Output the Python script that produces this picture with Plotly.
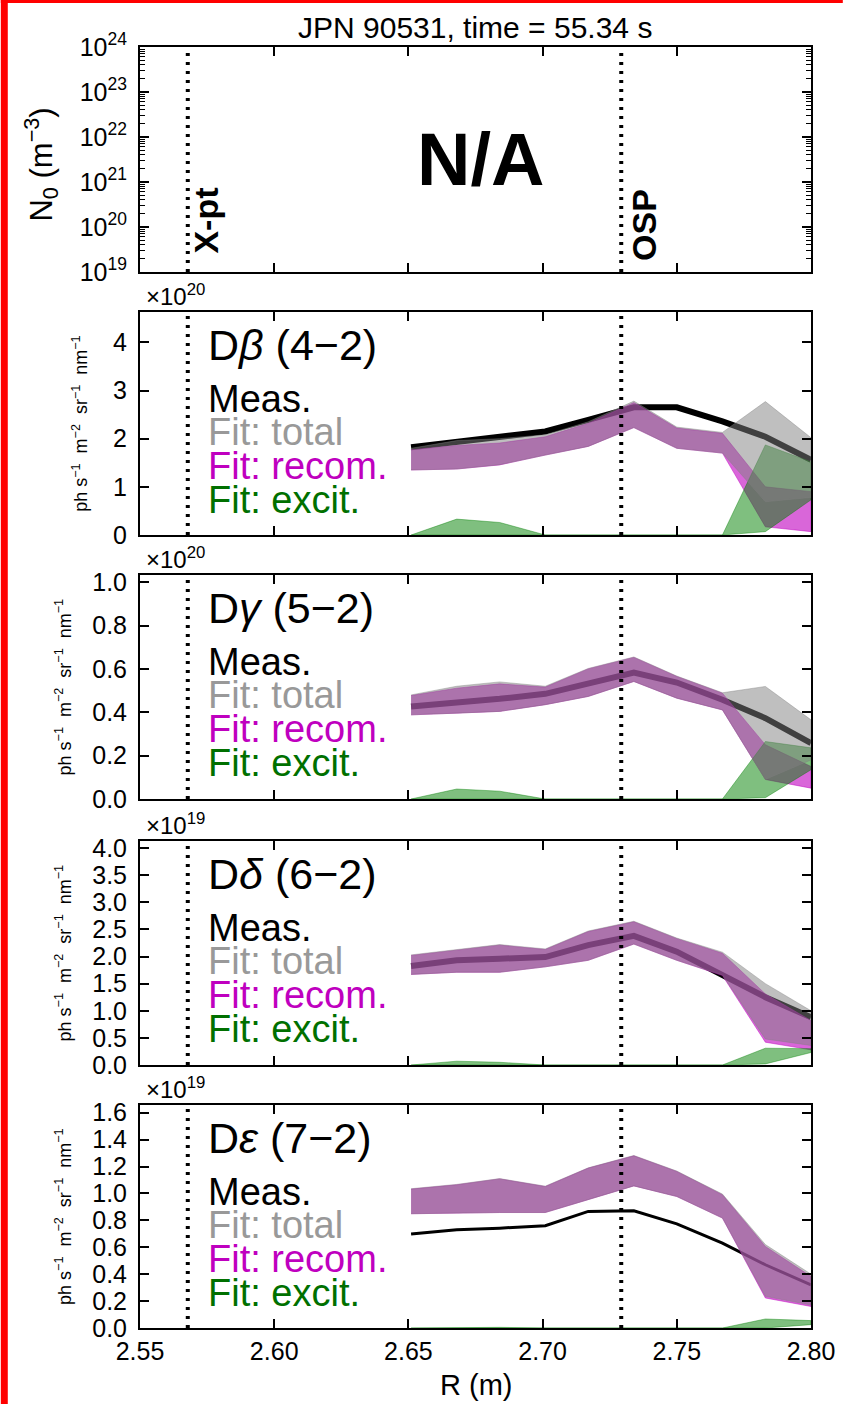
import plotly.graph_objects as go

# ---------------- data ----------------
R = [2.651, 2.668, 2.684, 2.701, 2.717, 2.734, 2.750, 2.767, 2.783, 2.800]
R_XPT = 2.5678
R_OSP = 2.7293

# D-beta (x1e20)
b_meas = [1.82, 1.94, 2.03, 2.15, 2.39, 2.65, 2.65, 2.36, 2.04, 1.56]
b_rec_hi = [1.77, 1.86, 1.91, 2.04, 2.32, 2.75, 2.22, 2.11, 1.00, 0.90]
b_rec_lo = [1.35, 1.37, 1.455, 1.66, 1.84, 2.23, 1.80, 1.70, 0.17, 0.07]
b_tot_hi = [1.80, 1.96, 2.00, 2.08, 2.35, 2.78, 2.24, 2.13, 2.77, 2.02]
b_tot_lo = [1.35, 1.37, 1.46, 1.66, 1.84, 2.23, 1.80, 1.70, 0.69, 0.78]
b_exc_hi = [0.0, 0.33, 0.26, 0.0, 0.0, 0.0, 0.0, 0.0, 1.87, 1.52]
b_exc_lo = [0.0, 0.0, 0.0, 0.0, 0.0, 0.0, 0.0, 0.0, 0.07, 0.73]

# D-gamma (x1e20)
g_meas = [0.427, 0.442, 0.462, 0.485, 0.534, 0.583, 0.537, 0.458, 0.373, 0.258]
g_rec_hi = [0.477, 0.511, 0.531, 0.516, 0.600, 0.653, 0.565, 0.488, 0.25, 0.15]
g_rec_lo = [0.388, 0.396, 0.404, 0.435, 0.473, 0.542, 0.465, 0.411, 0.09, 0.05]
g_tot_hi = [0.480, 0.520, 0.540, 0.520, 0.602, 0.655, 0.567, 0.490, 0.519, 0.365]
g_tot_lo = [0.388, 0.396, 0.404, 0.435, 0.473, 0.542, 0.465, 0.411, 0.09, 0.18]
g_exc_hi = [0.0, 0.046, 0.036, 0.0, 0.0, 0.0, 0.0, 0.0, 0.265, 0.236]
g_exc_lo = [0.0, 0.0, 0.0, 0.0, 0.0, 0.0, 0.0, 0.0, 0.006, 0.135]

# D-delta (x1e19)
d_meas = [1.826, 1.93, 1.96, 1.99, 2.21, 2.38, 2.09, 1.65, 1.25, 0.88]
d_rec_hi = [2.02, 2.12, 2.21, 2.13, 2.46, 2.64, 2.33, 2.06, 1.31, 0.82]
d_rec_lo = [1.67, 1.71, 1.71, 1.81, 1.93, 2.23, 1.93, 1.65, 0.42, 0.28]
d_tot_hi = [2.03, 2.13, 2.22, 2.14, 2.47, 2.65, 2.34, 2.08, 1.50, 1.00]
d_tot_lo = [1.67, 1.71, 1.71, 1.81, 1.93, 2.23, 1.93, 1.66, 0.48, 0.36]
d_exc_hi = [0.0, 0.07, 0.05, 0.0, 0.0, 0.0, 0.0, 0.0, 0.31, 0.30]
d_exc_lo = [0.0, 0.0, 0.0, 0.0, 0.0, 0.0, 0.0, 0.0, 0.02, 0.23]

# D-epsilon (x1e19)
e_meas = [0.698, 0.73, 0.742, 0.76, 0.866, 0.871, 0.774, 0.631, 0.47, 0.32]
e_rec_hi = [1.032, 1.064, 1.108, 1.051, 1.188, 1.279, 1.163, 0.99, 0.606, 0.383]
e_rec_lo = [0.849, 0.854, 0.858, 0.858, 0.952, 1.056, 0.977, 0.817, 0.223, 0.160]
e_tot_hi = [1.035, 1.067, 1.11, 1.054, 1.19, 1.282, 1.166, 0.995, 0.62, 0.40]
e_tot_lo = [0.849, 0.854, 0.858, 0.858, 0.952, 1.056, 0.977, 0.817, 0.235, 0.17]
e_exc_hi = [0.0, 0.005, 0.005, 0.0, 0.0, 0.0, 0.0, 0.0, 0.067, 0.055]
e_exc_lo = [0.0, 0.0, 0.0, 0.0, 0.0, 0.0, 0.0, 0.0, 0.0, 0.025]

panel_titles = ["D<i>β</i> (4−2)", "D<i>γ</i> (5−2)", "D<i>δ</i> (6−2)", "D<i>ε</i> (7−2)"]
panel_scales = ["×10<sup>20</sup>", "×10<sup>20</sup>", "×10<sup>19</sup>", "×10<sup>19</sup>"]
legend_labels = ["Meas.", "Fit: total", "Fit: recom.", "Fit: excit."]
x_ticks = [2.55, 2.60, 2.65, 2.70, 2.75, 2.80]
log_ticks = [19, 20, 21, 22, 23, 24]

spec = [
    (b_meas, b_rec_lo, b_rec_hi, b_tot_lo, b_tot_hi, b_exc_lo, b_exc_hi),
    (g_meas, g_rec_lo, g_rec_hi, g_tot_lo, g_tot_hi, g_exc_lo, g_exc_hi),
    (d_meas, d_rec_lo, d_rec_hi, d_tot_lo, d_tot_hi, d_exc_lo, d_exc_hi),
    (e_meas, e_rec_lo, e_rec_hi, e_tot_lo, e_tot_hi, e_exc_lo, e_exc_hi),
]
y_ranges = [[0, 4.63], [0, 1.033], [0, 4.13], [0, 1.657]]
y_dticks = [1, 0.2, 0.5, 0.2]
y_formats = ["d", ".1f", ".1f", ".1f"]
meas_widths = [6, 6, 6, 3]

# ---------------- layout geometry (pixels) ----------------
W, H = 847, 1404
L, RGT, T, B = 140, 815, 47, 1328
panels_px = [(47, 272), (312, 535), (575, 799), (841, 1065), (1105, 1328)]


def px(x):
    return (x - L) / (RGT - L)


def py(y):
    return (B - y) / (B - T)


FONT = "Liberation Sans, Arial, Helvetica, sans-serif"
C_REC = "rgba(191,0,191,0.6)"
C_TOT = "rgba(128,128,128,0.5)"
C_EXC = "rgba(0,128,0,0.5)"

fig = go.Figure()


def band(lo, hi, color, xa, ya):
    fig.add_trace(go.Scatter(
        x=R + R[::-1], y=hi + lo[::-1], mode="lines", fill="toself",
        fillcolor=color, line=dict(color=color, width=0.8),
        xaxis=xa, yaxis=ya, showlegend=False, hoverinfo="skip"))


# panel 1: empty log axis (needs one invisible trace)
fig.add_trace(go.Scatter(x=[R[0]], y=[1e21], mode="markers", marker=dict(opacity=0),
                         xaxis="x", yaxis="y", showlegend=False, hoverinfo="skip"))

for k, (meas, rlo, rhi, tlo, thi, elo, ehi) in enumerate(spec):
    xa = "x%d" % (k + 2)
    ya = "y%d" % (k + 2)
    fig.add_trace(go.Scatter(x=R, y=meas, mode="lines",
                             line=dict(color="black", width=meas_widths[k]),
                             xaxis=xa, yaxis=ya, showlegend=False))
    band(rlo, rhi, C_REC, xa, ya)
    band(elo, ehi, C_EXC, xa, ya)
    band(tlo, thi, C_TOT, xa, ya)

axis_common = dict(ticks="inside", ticklen=9, tickwidth=1.5, tickcolor="black",
                   showline=True, linewidth=2, linecolor="black", mirror="ticks",
                   showgrid=False, zeroline=False,
                   tickfont=dict(family=FONT, size=25, color="black"))

layout = dict(
    width=W, height=H, margin=dict(l=L, r=W - RGT, t=T, b=H - B),
    paper_bgcolor="white", plot_bgcolor="white", showlegend=False,
    font=dict(family=FONT, color="black"),
)

for i in range(5):
    top, bot = panels_px[i]
    sfx = "" if i == 0 else str(i + 1)
    xa = dict(axis_common, domain=[0, 1], range=[2.55, 2.80], tickvals=x_ticks,
              tickformat=".2f", anchor="y" + sfx, showticklabels=(i == 4))
    if i < 4:
        xa["matches"] = "x5"
    layout["xaxis" + sfx] = xa
    ya = dict(axis_common, domain=[py(bot), py(top)], anchor="x" + sfx,
              ticklabelstandoff=6)
    if i == 0:
        minor_vals = [m * 10.0 ** e for e in log_ticks[:-1] for m in range(2, 10)]
        ya.update(type="log", range=[19, 24],
                  tickvals=[10.0 ** e for e in log_ticks],
                  ticktext=["10<sup>%d</sup>" % e for e in log_ticks],
                  minor=dict(ticks="inside", ticklen=5, tickwidth=1, tickcolor="black",
                             tickvals=minor_vals))
    else:
        ya.update(range=y_ranges[i - 1], dtick=y_dticks[i - 1], tick0=0,
                  tickformat=y_formats[i - 1])
    layout["yaxis" + sfx] = ya

fig.update_layout(**layout)

# vertical dotted lines
for i in range(5):
    sfx = "" if i == 0 else str(i + 1)
    for xv in (R_XPT, R_OSP):
        fig.add_shape(type="line", xref="x" + sfx, yref="y" + sfx + " domain",
                      x0=xv, x1=xv, y0=0, y1=1,
                      line=dict(color="black", width=4, dash="3px,6px"))

ann = []


def text(x, y, s, size, color="black", xanchor="center", yanchor="middle", angle=0):
    ann.append(dict(x=px(x), y=py(y), xref="paper", yref="paper", text=s, showarrow=False,
                    font=dict(family=FONT, size=size, color=color),
                    xanchor=xanchor, yanchor=yanchor, textangle=angle))


text(477, 28, "JPN 90531, time = 55.34 s", 30)
text(483, 159, "<b>N/A</b>", 74)
text(206, 221, "<b>X-pt</b>", 34, angle=-90)
text(647, 225, "<b>OSP</b>", 34, angle=-90)
text(40, 165, "N<sub>0</sub> (m<sup>−3</sup>)", 31, angle=-90)
text(478, 1385, "R (m)", 29)

ylab = "ph s<sup>−1</sup>\u00a0\u00a0m<sup>−2</sup>\u00a0\u00a0sr<sup>−1</sup>\u00a0\u00a0nm<sup>−1</sup>"
ylab_x = [80, 63, 63, 63]
leg_colors = ["black", "#999999", "#bf00bf", "#007000"]
leg_offsets = [87, 120, 154, 188]
for k in range(4):
    top, bot = panels_px[k + 1]
    text(ylab_x[k], (top + bot) / 2, ylab, 18, angle=-90)
    text(144, top - 17, panel_scales[k], 24, xanchor="left")
    text(206, top + 33, panel_titles[k], 43, xanchor="left")
    for j in range(4):
        text(206, top + leg_offsets[j], legend_labels[j], 38, color=leg_colors[j], xanchor="left")

fig.update_layout(annotations=ann)

# red frame at the left and top edges of the image
fig.add_shape(type="rect", xref="paper", yref="paper", x0=px(0), x1=px(7), y0=py(H), y1=py(0),
              fillcolor="red", line=dict(width=0), layer="above")
fig.add_shape(type="rect", xref="paper", yref="paper", x0=px(0), x1=px(W), y0=py(3), y1=py(0),
              fillcolor="red", line=dict(width=0), layer="above")

fig.write_html("out.html")
